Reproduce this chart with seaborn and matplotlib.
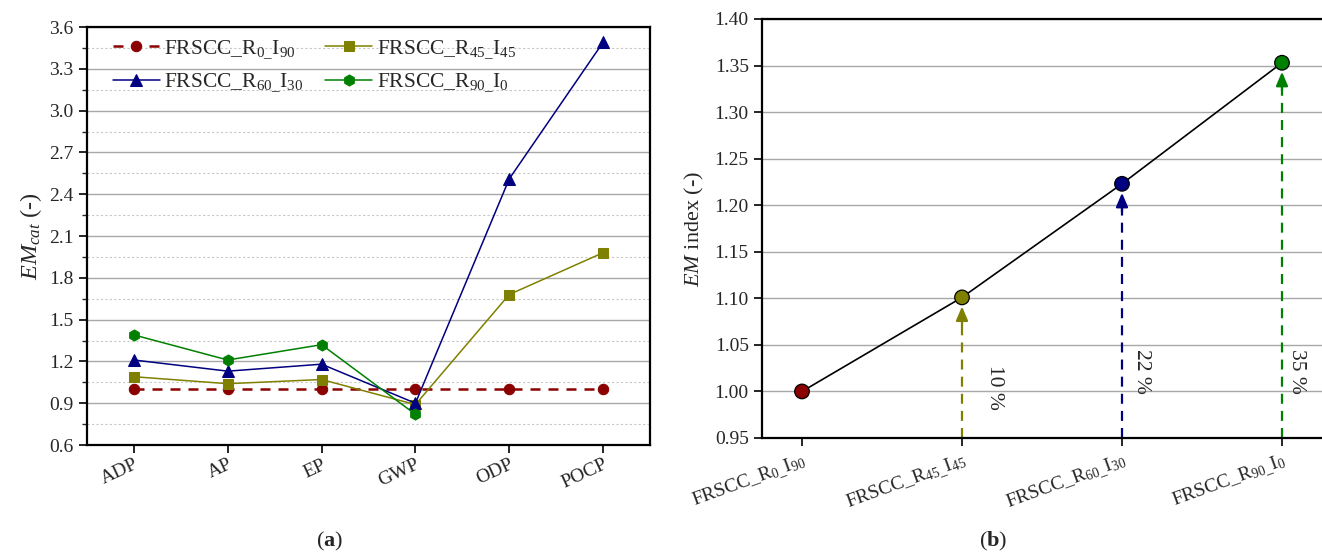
import numpy as np
import pandas as pd
import matplotlib
matplotlib.use("Agg")
import matplotlib.pyplot as plt
import seaborn as sns
from matplotlib.ticker import MultipleLocator

# ---------------- data ----------------
categories = ["ADP", "AP", "EP", "GWP", "ODP", "POCP"]
r0_i90 = [1.00, 1.00, 1.00, 1.00, 1.00, 1.00]
r45_i45 = [1.09, 1.04, 1.07, 0.89, 1.68, 1.98]
r60_i30 = [1.21, 1.13, 1.18, 0.90, 2.51, 3.49]
r90_i0 = [1.39, 1.21, 1.32, 0.82, np.nan, np.nan]

legend_labels = [
    r"FRSCC_R$_{\mathit{0\_}}$I$_{\mathit{90}}$",
    r"FRSCC_R$_{\mathit{45\_}}$I$_{\mathit{45}}$",
    r"FRSCC_R$_{\mathit{60\_}}$I$_{\mathit{30}}$",
    r"FRSCC_R$_{\mathit{90\_}}$I$_{\mathit{0}}$",
]

mixes = ["R0_I90", "R45_I45", "R60_I30", "R90_I0"]
mix_labels = [
    r"FRSCC_R$_{\mathrm{0\_}}$I$_{\mathrm{90}}$",
    r"FRSCC_R$_{\mathrm{45\_}}$I$_{\mathrm{45}}$",
    r"FRSCC_R$_{\mathrm{60\_}}$I$_{\mathrm{30}}$",
    r"FRSCC_R$_{\mathrm{90\_}}$I$_{\mathrm{0}}$",
]
em_index = [1.000, 1.101, 1.223, 1.353]
pct_labels = ["", "10 %", "22 %", "35 %"]

# ---------------- style ----------------
sns.set_theme(style="white")
plt.rcParams["font.family"] = ["Liberation Serif", "DejaVu Serif"]
plt.rcParams["mathtext.fontset"] = "custom"
plt.rcParams["mathtext.rm"] = "Liberation Serif"
plt.rcParams["mathtext.it"] = "Liberation Serif:italic"
plt.rcParams["mathtext.bf"] = "Liberation Serif:bold"

colors = ["#8b0000", "#808000", "#000080", "#008000"]

W, H = 1322, 554
fig = plt.figure(figsize=(W / 100, H / 100), dpi=100)

def box(x0, y0, x1, y1):
    return [x0 / W, 1 - y1 / H, (x1 - x0) / W, (y1 - y0) / H]

ax1 = fig.add_axes(box(87, 27, 650, 445))
ax2 = fig.add_axes(box(762, 19, 1322, 438))

# ---------------- panel (a) ----------------
pos = np.arange(len(categories))
series = [
    (r0_i90, legend_labels[0], colors[0], "o", (0, (4, 3.2)), 1.8, 7.5),
    (r45_i45, legend_labels[1], colors[1], "s", "-", 1.1, 6.5),
    (r60_i30, legend_labels[2], colors[2], "^", "-", 1.1, 8),
    (r90_i0, legend_labels[3], colors[3], "h", "-", 1.1, 8),
]
for vals, lab, col, mk, ls, lw, ms in series:
    df = pd.DataFrame({"x": pos, "y": vals}).dropna()
    sns.lineplot(data=df, x="x", y="y", ax=ax1, color=col, marker=mk,
                 linestyle=ls, linewidth=lw, markersize=ms,
                 markeredgecolor=col, label=lab, zorder=3)
h, l = ax1.get_legend_handles_labels()
hmap = dict(zip(l, h))
order = [legend_labels[0], legend_labels[2], legend_labels[1], legend_labels[3]]
ax1.legend([hmap[k] for k in order], order, ncol=2, frameon=False,
           loc="upper left", bbox_to_anchor=(0.011, 1.02), fontsize=15.5,
           handlelength=2.2, columnspacing=1.0, handletextpad=0.2,
           labelspacing=0.5)

ax1.set_xlim(-0.5, len(categories) - 0.5)
ax1.set_ylim(0.6, 3.6)
ax1.yaxis.set_major_locator(MultipleLocator(0.3))
ax1.yaxis.set_minor_locator(MultipleLocator(0.15))
ax1.yaxis.set_major_formatter(matplotlib.ticker.FormatStrFormatter("%.1f"))
ax1.set_xticks(pos)
ax1.set_xticklabels(categories, rotation=25, ha="right", rotation_mode="anchor")
ax1.grid(True, which="major", axis="y", color="#a8a8a8", lw=1.0, ls="-")
ax1.grid(True, which="minor", axis="y", color="#c8c8c8", lw=0.8, ls=(0, (2, 2)))
ax1.set_axisbelow(True)
ax1.tick_params(axis="both", which="major", direction="out", length=6, width=1.2,
                labelsize=14, color="black", left=True, bottom=True)
ax1.tick_params(axis="y", which="minor", direction="out", length=3.5, width=1.0,
                left=True)
ax1.tick_params(axis="x", pad=2)
for s in ax1.spines.values():
    s.set_color("black")
    s.set_linewidth(1.6)
ax1.set_xlabel("")
ax1.set_ylabel(r"$EM_{cat}$ (-)", fontsize=17.5, labelpad=4)

# ---------------- panel (b) ----------------
xpos = np.arange(len(mixes))
sns.lineplot(x=xpos, y=em_index, ax=ax2, color="black", linewidth=1.2, zorder=3)
sns.scatterplot(x=xpos, y=em_index, hue=mixes, palette=colors, ax=ax2, s=110,
                edgecolor="black", linewidth=0.9, zorder=5, legend=False)

for i in range(1, len(mixes)):
    c = colors[i]
    ax2.plot([xpos[i], xpos[i]], [0.95, em_index[i] - 0.02], color=c, lw=1.6,
             ls=(0, (4.5, 3.2)), zorder=2)
    ax2.annotate("", xy=(xpos[i], em_index[i]), xytext=(xpos[i], em_index[i] - 0.03),
                 arrowprops=dict(arrowstyle="-|>,head_length=0.7,head_width=0.3",
                                 color=c, lw=1.6, shrinkA=0, shrinkB=6.5),
                 zorder=4)

text_pos = [None, (0.20, 1.004), (0.12, 1.021), (0.09, 1.022)]
for i in range(1, len(mixes)):
    dx, ty = text_pos[i]
    ax2.text(xpos[i] + dx, ty, pct_labels[i], rotation=270, ha="center",
             va="center", fontsize=15.5)

ax2.set_xlim(-0.25, len(mixes) - 0.75)
ax2.set_ylim(0.95, 1.40)
ax2.yaxis.set_major_locator(MultipleLocator(0.05))
ax2.yaxis.set_major_formatter(matplotlib.ticker.FormatStrFormatter("%.2f"))
ax2.set_xticks(xpos)
ax2.set_xticklabels(mix_labels, rotation=20, ha="right", rotation_mode="anchor")
ax2.grid(True, which="major", axis="y", color="#a8a8a8", lw=1.0, ls="-")
ax2.set_axisbelow(True)
ax2.tick_params(axis="both", which="major", direction="out", length=6, width=1.2,
                labelsize=14, color="black", left=True, bottom=True)
for s in ax2.spines.values():
    s.set_color("black")
    s.set_linewidth(1.6)
ax2.spines["right"].set_visible(False)
ax2.set_xlabel("")
ax2.set_ylabel(r"$EM$ index (-)", fontsize=16, labelpad=6)

# ---------------- captions ----------------
fig.text(330 / W, 1 - 541 / H, r"($\mathbf{a}$)", ha="center", va="center", fontsize=16)
fig.text(993 / W, 1 - 541 / H, r"($\mathbf{b}$)", ha="center", va="center", fontsize=16)

fig.savefig("out.png", dpi=100)
